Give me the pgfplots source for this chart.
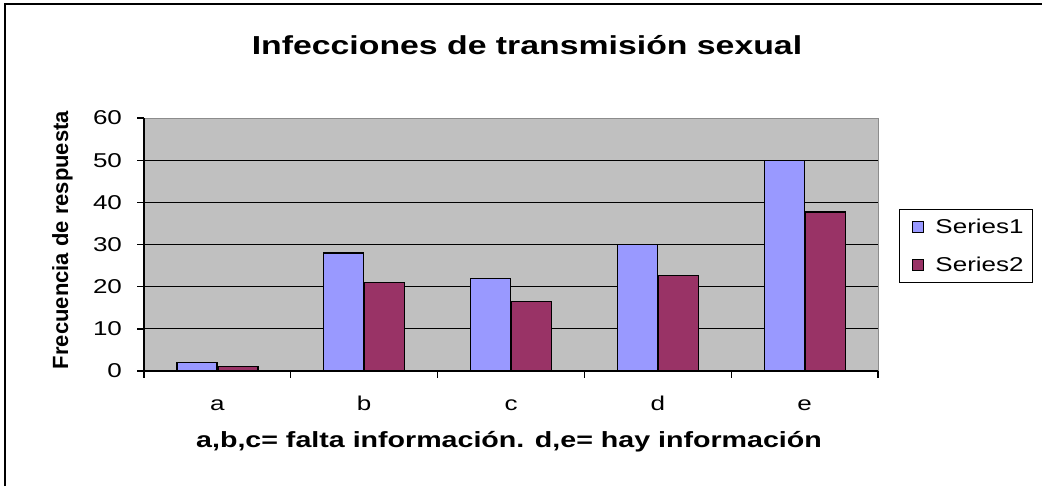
\documentclass[border=0pt]{standalone}
\usepackage{fontspec}
\setmainfont{Liberation Sans}
\newfontfamily\wide[FakeStretch=1.3]{Liberation Sans}
\usepackage{pgfplots}
\pgfplotsset{compat=1.18}
\definecolor{serA}{HTML}{9999FF}
\definecolor{serB}{HTML}{993366}
\definecolor{plotbg}{HTML}{C0C0C0}
\definecolor{plotbd}{HTML}{8C8C8C}
\begin{document}
\begin{tikzpicture}
\useasboundingbox (0,0) rectangle (781.5pt,-364.5pt);
\draw[line width=2pt] (3.75pt,-364.5pt) -- (3.75pt,-3pt) -- (781.5pt,-3pt);
\begin{axis}[
  at={(108pt,-278.25pt)}, anchor=south west,
  scale only axis, width=550.5pt, height=189.75pt,
  xmin=-0.5, xmax=4.5, ymin=0, ymax=60,
  ybar=0.75pt, bar width=30pt,
  axis background/.style={fill=plotbg, draw=plotbd, line width=0.75pt},
  axis x line*=bottom, axis y line*=left,
  axis line style={black, line width=1pt},
  tick align=outside,
  major tick length=5pt, minor tick length=5pt,
  every tick/.style={black, line width=1pt},
  ytick={0,10,...,50},
  extra y ticks={60}, extra y tick style={grid=none},
  ymajorgrids, major grid style={black, line width=0.9pt},
  xtick={0,1,2,3,4}, xticklabels={a,b,c,d,e},
  major x tick style={draw=none},
  minor xtick={-0.5,0.5,1.5,2.5,3.5,4.5},
  /pgf/number format/assume math mode=true,
  xticklabel style={font=\wide\fontsize{15}{18}\selectfont, anchor=base, yshift=-24.75pt},
  yticklabel style={font=\wide\fontsize{15}{18}\selectfont, anchor=east, xshift=-8pt},
  title={Infecciones de transmisión sexual},
  title style={at={(axis description cs:0.5218,1.22)}, anchor=base, font=\wide\bfseries\fontsize{19.5}{22}\selectfont},
  xlabel={a,b,c= falta información. d,e= hay información},
  xlabel style={at={(axis description cs:0.4973,-0.304)}, anchor=base, font=\wide\bfseries\fontsize{16.5}{20}\selectfont},
  ylabel={Frecuencia de respuesta},
  ylabel style={at={(axis description cs:-0.1035,0.5178)}, rotate=0, anchor=base, font=\bfseries\fontsize{16.5}{19}\selectfont},
  legend style={at={(axis description cs:1.0286,0.640)}, anchor=north west, draw=black, line width=0.75pt, fill=white,
    font=\wide\fontsize{15}{18}\selectfont, row sep=12pt, inner xsep=5pt, inner ysep=5pt},
  legend cell align=left,
]
\addplot[fill=serA, draw=black, line width=0.9pt,
  legend image code/.code={\path[draw=none,fill=none] (0pt,0pt) -- (20pt,0pt);\draw[fill=serA, draw=black, line width=0.6pt] (5pt,-4.1pt) rectangle (13.25pt,4.1pt);}]
  coordinates {(0,2) (1,28) (2,22) (3,30) (4,50)};
\addplot[fill=serB, draw=black, line width=0.9pt,
  legend image code/.code={\path[draw=none,fill=none] (0pt,0pt) -- (20pt,0pt);\draw[fill=serB, draw=black, line width=0.6pt] (5pt,-4.1pt) rectangle (13.25pt,4.1pt);}]
  coordinates {(0,1) (1,21) (2,16.5) (3,22.7) (4,37.7)};
\legend{Series1,Series2}
\end{axis}
\end{tikzpicture}
\end{document}
